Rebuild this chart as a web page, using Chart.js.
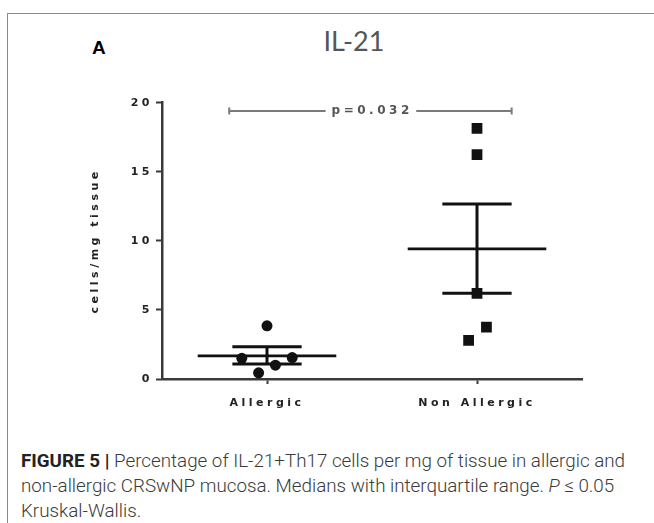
<!DOCTYPE html>
<html>
<head>
<meta charset="utf-8">
<script src="https://cdn.jsdelivr.net/npm/chart.js@4.4.0/dist/chart.umd.min.js"></script>
<style>
  html, body { margin:0; padding:0; background:#fff; }
  body { width:654px; height:523px; position:relative; overflow:hidden; font-family:"Liberation Sans", Arial, sans-serif; }
  #frame { position:absolute; left:7px; top:13px; width:700px; height:600px; border-left:1.5px solid #8a8a8a; border-top:1.5px solid #8a8a8a; }
  #wrap { position:absolute; left:0; top:0; width:654px; height:440px; }
  #panel { position:absolute; left:92px; top:38px; font:bold 19px/19px "Liberation Sans", Arial, sans-serif; color:#000; }
  #title { position:absolute; left:254px; width:200px; top:27px; text-align:center; font:27px/28px Lato, "Open Sans", sans-serif; color:#555; }
  #caption { position:absolute; left:21px; top:449px; font:300 18.8px/25px Roboto, "Liberation Sans", sans-serif; color:#3a3a3a; white-space:nowrap; }
  #caption b { font-weight:700; color:#222; }
</style>
</head>
<body>
<div id="frame"></div>
<div id="panel">A</div>
<div id="title">IL-21</div>
<div id="wrap"><canvas id="chart" width="654" height="440"></canvas></div>
<div id="caption"><b>FIGURE 5 |</b> Percentage of IL-21+Th17 cells per mg of tissue in allergic and<br>non-allergic CRSwNP mucosa. Medians with interquartile range. <i>P</i> &le; 0.05<br>Kruskal-Wallis.</div>
<script>
// dados
const categories = ['Allergic', 'Non Allergic'];
const yTicks = [0, 5, 10, 15, 20];

const allergicValues = [3.85, 1.5, 1.55, 1.0, 0.45];
const allergicJitter = [0, -0.12, 0.12, 0.04, -0.04];
const nonAllergicValues = [18.15, 16.25, 6.2, 3.75, 2.8];
const nonAllergicJitter = [0, 0, 0, 0.045, -0.04];

const centerLine = [1.67, 9.42];
const barUpper = [2.34, 12.66];
const barLower = [1.09, 6.21];

const pLabel = 'p=0.032';
const pBracketY = 19.4;

// largura das linhas (unidades do eixo x)
const MEDIAN_HALF = 0.33;
const CAP_HALF = 0.165;
const BRACKET_FROM = 0.82, BRACKET_TO = 2.165;

const INK = '#111';
const AXIS = '#3a3a3a';

function seg(pts, w){
  return { data: pts, showLine:true, pointRadius:0, borderColor:INK, borderWidth:w, fill:false };
}

const datasets = [
  { data: allergicValues.map((v,i)=>({x:1+allergicJitter[i], y:v})),
    pointStyle:'circle', pointRadius:5.5, backgroundColor:INK, borderWidth:0 },
  { data: nonAllergicValues.map((v,i)=>({x:2+nonAllergicJitter[i], y:v})),
    pointStyle:'rect', pointRadius:7.6, backgroundColor:INK, borderWidth:0 }
];
centerLine.forEach((m,i)=>{
  const c = i+1;
  datasets.push(seg([{x:c-MEDIAN_HALF,y:m},{x:c+MEDIAN_HALF,y:m}], 2.8));
  datasets.push(seg([{x:c-CAP_HALF,y:barUpper[i]},{x:c+CAP_HALF,y:barUpper[i]}], 3));
  datasets.push(seg([{x:c-CAP_HALF,y:barLower[i]},{x:c+CAP_HALF,y:barLower[i]}], 3));
  datasets.push(seg([{x:c,y:barLower[i]},{x:c,y:barUpper[i]}], 3));
});

const spacing = {
  id:'spacing',
  beforeDraw(chart){ chart.ctx.letterSpacing = '3.5px'; },
  afterDraw(chart){
    const {ctx, scales:{x, y}} = chart;
    ctx.save();
    const py = y.getPixelForValue(pBracketY);
    const x0 = x.getPixelForValue(BRACKET_FROM), x1 = x.getPixelForValue(BRACKET_TO);
    const cx = (x0+x1)/2;
    ctx.font = 'bold 12px "DejaVu Sans", sans-serif';
    ctx.letterSpacing = '3.5px';
    const tw = ctx.measureText(pLabel).width - 3.5;
    ctx.fillStyle = '#555';
    ctx.textAlign = 'left';
    ctx.textBaseline = 'middle';
    ctx.fillText(pLabel, cx - tw/2, py);
    ctx.strokeStyle = '#7a7a7a';
    ctx.lineWidth = 2;
    ctx.beginPath();
    ctx.moveTo(x0, py); ctx.lineTo(cx - tw/2 - 6, py);
    ctx.moveTo(cx + tw/2 + 7, py); ctx.lineTo(x1, py);
    ctx.moveTo(x0, py-3.5); ctx.lineTo(x0, py+3.5);
    ctx.moveTo(x1, py-3.5); ctx.lineTo(x1, py+3.5);
    ctx.stroke();
    ctx.restore();
    ctx.letterSpacing = '0px';
  }
};

const tickFont = { family:'"DejaVu Sans", sans-serif', weight:'bold', size:11 };

new Chart(document.getElementById('chart'), {
  type:'scatter',
  data:{ datasets },
  options:{
    responsive:false,
    animation:false,
    layout:{ padding:{ left:84, right:72, top:102.7, bottom:21 } },
    plugins:{ legend:{ display:false }, tooltip:{ enabled:false } },
    scales:{
      x:{
        type:'linear', min:0.5, max:2.5,
        afterBuildTicks: s => { s.ticks = categories.map((_,i)=>({ value:i+1 })); },
        afterFit: s => { s.height = 40; },
        ticks:{ callback: v => categories[v-1] || '', color:'#222', font:tickFont, padding:13, autoSkip:false, maxRotation:0 },
        grid:{ drawOnChartArea:false, drawTicks:true, tickLength:5, tickColor:AXIS, tickWidth:2 },
        border:{ color:AXIS, width:2.5 }
      },
      y:{
        min:0, max:20,
        afterBuildTicks: s => { s.ticks = yTicks.map(v=>({ value:v })); },
        afterFit: s => { s.width = 78; },
        ticks:{ color:'#222', font:tickFont, padding:3 },
        grid:{ drawOnChartArea:false, drawTicks:true, tickLength:6, tickColor:AXIS, tickWidth:2 },
        border:{ color:AXIS, width:2.5 },
        title:{ display:true, text:'cells/mg tissue', color:'#222', font:tickFont, padding:{ top:5, bottom:0 } }
      }
    }
  },
  plugins:[spacing]
});
</script>
</body>
</html>
